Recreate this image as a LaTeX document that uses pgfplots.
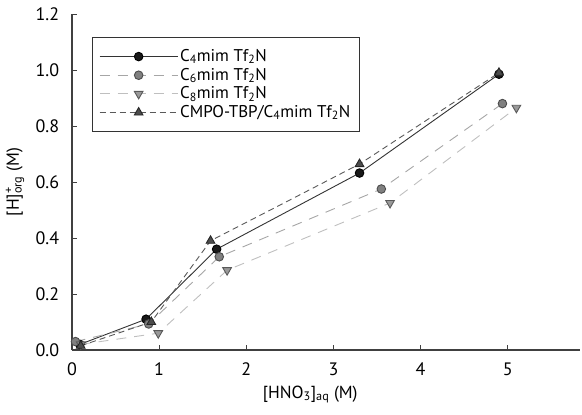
\documentclass[border=0pt]{standalone}
\usepackage{fontspec}
\setmainfont{PT Sans}
\usepackage{pgfplots}
\pgfplotsset{compat=1.18}
\begin{document}
\fontsize{17}{20}\selectfont
\begin{tikzpicture}
\path[use as bounding box] (-72pt,-65pt) rectangle (510pt,350pt);
\begin{axis}[
  scale only axis, width=508pt, height=336pt,
  xmin=0, xmax=5.83, ymin=0, ymax=1.2,
  axis x line=bottom, axis y line=left,
  axis line style={-, draw=black!75, line width=1.1pt},
  xtick={0,1,2,3,4,5}, ytick={0,0.2,0.4,0.6,0.8,1.0,1.2},
  /pgf/number format/assume math mode=true,
  tick style={draw=black!75, line width=0.8pt}, major tick length=5pt, tick align=inside,
  tick label style={font=\fontsize{18}{21}\selectfont},
  xticklabel style={yshift=-7pt},
  yticklabel style={xshift=-7pt, /pgf/number format/fixed, /pgf/number format/fixed zerofill, /pgf/number format/precision=1},
  xlabel={[HNO\textsubscript{3}]\textsubscript{aq} (M)},
  ylabel={[H]\rlap{\textsuperscript{+}}\textsubscript{org} (M)},
  label style={font=\fontsize{17.5}{20}\selectfont},
  xlabel style={at={(axis description cs:0.469,0)}, anchor=north, yshift=-30pt},
  ylabel style={at={(axis description cs:0,0.5)}, anchor=south, yshift=42pt},
  legend style={at={(axis description cs:0.039,0.932)}, anchor=north west,
    draw=black!80, line width=0.8pt, font=\fontsize{17}{19.5}\selectfont,
    inner xsep=7pt, inner ysep=10pt, row sep=0pt},
  legend cell align=left,
  legend image code/.code={\draw[mark repeat=2,mark phase=2,#1] plot coordinates {(0pt,0pt) (39pt,0pt) (78pt,0pt)};},
]
\addplot[draw=black!80, line width=0.9pt, solid, mark=*, mark size=4.3pt,
  mark options={fill=black!90, draw=black, solid}]
  coordinates {(0.09,0.02) (0.85,0.11) (1.66,0.36) (3.30,0.632) (4.90,0.985)};
\addlegendentry{C\textsubscript{4}mim Tf\textsubscript{2}N}
\addplot[draw=black!35, line width=0.9pt, dash pattern=on 10pt off 8pt, mark=*, mark size=4.3pt,
  mark options={fill=black!50, draw=black!70, solid}]
  coordinates {(0.04,0.03) (0.88,0.093) (1.69,0.333) (3.55,0.575) (4.94,0.88)};
\addlegendentry{C\textsubscript{6}mim Tf\textsubscript{2}N}
\addplot[draw=black!25, line width=0.9pt, dash pattern=on 10pt off 8pt, mark=triangle*, mark size=5pt,
  mark options={fill=black!40, draw=black!65, solid, rotate=180}]
  coordinates {(0.1,0.02) (0.99,0.06) (1.78,0.285) (3.65,0.525) (5.10,0.865)};
\addlegendentry{C\textsubscript{8}mim Tf\textsubscript{2}N}
\addplot[draw=black!65, line width=0.9pt, dash pattern=on 6pt off 4pt, mark=triangle*, mark size=5pt,
  mark options={fill=black!70, draw=black!85, solid}]
  coordinates {(0.1,0.015) (0.91,0.10) (1.59,0.39) (3.30,0.664) (4.90,0.99)};
\addlegendentry{CMPO-TBP/C\textsubscript{4}mim Tf\textsubscript{2}N}
\end{axis}
\end{tikzpicture}
\end{document}
